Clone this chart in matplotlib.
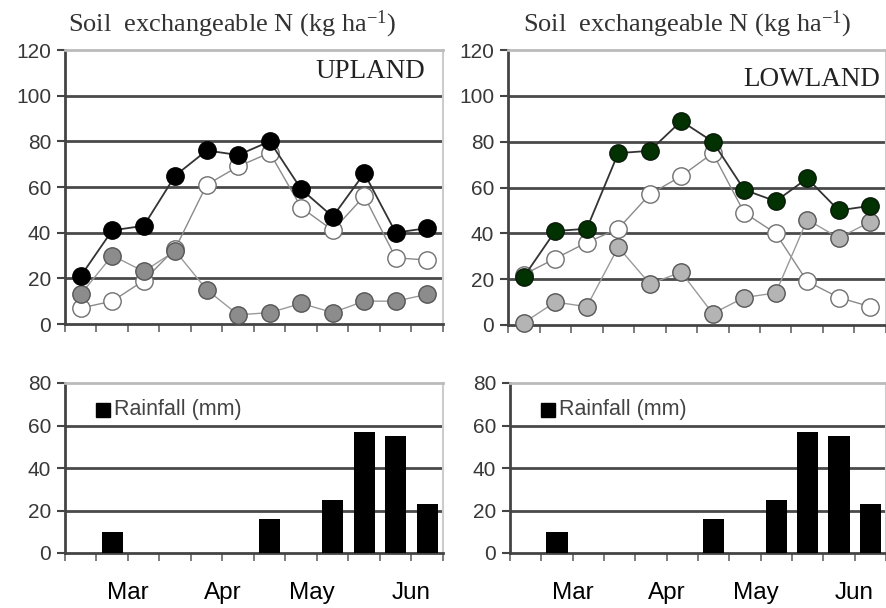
import matplotlib
matplotlib.use("Agg")
import matplotlib.pyplot as plt
import matplotlib.transforms as mtransforms
import numpy as np

# ---- data ----
n_dates = 12
upland_black = [21, 41, 43, 65, 76, 74, 80, 59, 47, 66, 40, 42]
upland_white = [7, 10, 19, 33, 61, 69, 75, 51, 41, 56, 29, 28]
upland_grey = [13, 30, 23, 32, 15, 4, 5, 9, 5, 10, 10, 13]
lowland_black = [21, 41, 42, 75, 76, 89, 80, 59, 54, 64, 50, 52]
lowland_white = [22, 29, 36, 42, 57, 65, 75, 49, 40, 19, 12, 8]
lowland_grey = [1, 10, 8, 34, 18, 23, 5, 12, 14, 46, 38, 45]
rainfall = [0, 10, 0, 0, 0, 0, 16, 0, 25, 57, 55, 23]
months = ["Mar", "Apr", "May", "Jun"]
month_pos = [1.5, 4.5, 7.35, 10.5]
panel_labels = ["UPLAND", "LOWLAND"]
n_ticks_top = [0, 20, 40, 60, 80, 100, 120]
rain_ticks = [0, 20, 40, 60, 80]

plt.rcParams['mathtext.fontset'] = 'custom'
plt.rcParams['mathtext.rm'] = 'Liberation Serif'
plt.rcParams['mathtext.it'] = 'Liberation Serif:italic'

W, H = 887, 608
fig = plt.figure(figsize=(W / 100, H / 100), dpi=100)
fig.patch.set_facecolor("white")

def px_axes(l, t, r, b):
    return fig.add_axes([l / W, 1 - b / H, (r - l) / W, (b - t) / H])

sans = "Liberation Sans"
serif = "Liberation Serif"
x = np.arange(n_dates)

def style_axes(ax, yticks, ymax):
    ax.set_xlim(-0.5, n_dates - 0.5)
    ax.set_ylim(0, ymax)
    ax.set_yticks(yticks)
    ax.set_yticklabels([str(v) for v in yticks], fontfamily=sans, fontsize=15, color="#383838")
    ax.set_xticks(np.arange(-0.5, n_dates, 1.0))
    ax.set_xticklabels([])
    ax.tick_params(axis="y", direction="out", length=6, width=1.5, color="#444444", pad=4)
    ax.tick_params(axis="x", direction="out", length=6, width=1.2, color="#666666")
    for v in yticks[1:-1]:
        ax.axhline(v, color="#4a4a4a", lw=2.0, zorder=1)
    ax.spines["left"].set_color("#444444")
    ax.spines["left"].set_linewidth(2.0)
    ax.spines["bottom"].set_color("#444444")
    ax.spines["bottom"].set_linewidth(2.0)
    ax.spines["top"].set_color("#bbbbbb")
    ax.spines["top"].set_linewidth(2.0)
    ax.spines["right"].set_color("#cccccc")
    ax.spines["right"].set_linewidth(1.5)

tops = [px_axes(65, 50, 443, 324), px_axes(508, 50, 886, 325)]
bots = [px_axes(65, 383, 443, 553), px_axes(510, 383, 886, 553)]

series = [
    (upland_black, upland_white, upland_grey, "#000000", "#000000", "#8c8c8c"),
    (lowland_black, lowland_white, lowland_grey, "#023202", "#0a1a0a", "#b4b4b4"),
]
label_px = [(425, 72), (880, 80)]

ms = 12.5
for ax, (blk, wht, gry, bface, bedge, gface), lab, (lx, ly) in zip(tops, series, panel_labels, label_px):
    style_axes(ax, n_ticks_top, 120)
    ax.plot(x, wht, color="#8a8a8a", lw=1.0, marker="o", ms=ms,
            mfc="white", mec="#707070", mew=1.0, zorder=3, clip_on=False)
    ax.plot(x, gry, color="#9a9a9a", lw=1.0, marker="o", ms=ms,
            mfc=gface, mec="#555555", mew=1.0, zorder=4, clip_on=False)
    ax.plot(x, blk, color="#333333", lw=1.3, marker="o", ms=ms,
            mfc=bface, mec=bedge, mew=1.0, zorder=5, clip_on=False)
    fig.text(lx / W, 1 - ly / H, lab, ha="right", va="center",
             fontfamily=serif, fontsize=19.5, color="#222222")

title = r"Soil  exchangeable N (kg ha$^{\mathrm{-1}}$)"
fig.text(232 / W, 1 - 24 / H, title, ha="center", va="center",
         fontfamily=serif, fontsize=19, color="#333333")
fig.text(687 / W, 1 - 24 / H, title, ha="center", va="center",
         fontfamily=serif, fontsize=19, color="#333333")

for ax in bots:
    style_axes(ax, rain_ticks, 80)
    ax.bar(x, rainfall, width=0.68, color="black", zorder=3)
    ax.plot([0.7], [67.5], marker="s", color="black", ms=10, ls="none", zorder=4)
    ax.text(1.05, 67.5, "Rainfall (mm)", fontfamily=sans, fontsize=15.5,
            color="#444444", ha="left", va="center")
    trans = mtransforms.blended_transform_factory(ax.transData, ax.transAxes)
    for m, p in zip(months, month_pos):
        ax.text(p, -0.235, m, transform=trans, ha="center", va="center",
                fontfamily=sans, fontsize=17.5, color="black")

fig.savefig("out.png", dpi=100, facecolor="white")
